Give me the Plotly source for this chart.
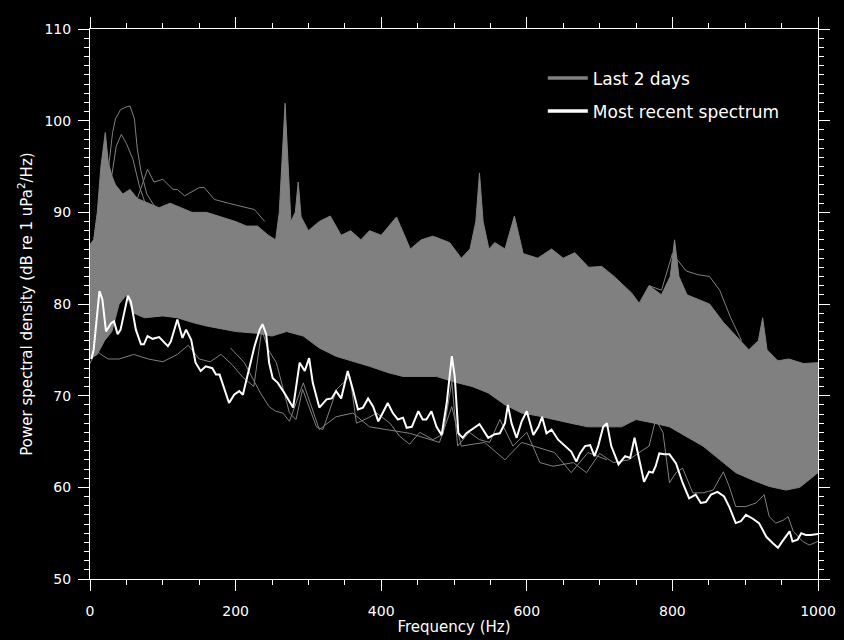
import plotly.graph_objects as go

GRAY = "rgb(128,128,128)"
FONT = "DejaVu Sans"

# ---- dense band of the last-2-days spectra (upper / lower envelope) ----
band_top_f = [0, 5, 10, 15, 21, 25, 30, 35, 45, 55, 65, 80, 95, 110, 125, 140, 160, 180,
              200, 215, 230, 245, 255, 260, 265, 268, 271, 276, 282, 286, 290, 300, 315,
              330, 345, 358, 372, 384, 400, 421, 440, 455, 471, 494, 510, 522, 530, 535,
              540, 548, 556, 570, 583, 595, 615, 634, 650, 666, 685, 703, 720, 744, 755,
              768, 785, 797, 803, 809, 820, 835, 851, 870, 887, 905, 918, 924, 930, 945,
              960, 980, 1000]
band_top_db = [86.5, 87, 90, 95, 98.7, 95.5, 94, 93, 92, 92.5, 91.5, 91, 90.5, 91, 90.5, 90,
               90, 89.5, 89, 88.5, 88.5, 87.5, 87, 90, 97, 101.9, 97, 89, 90, 93.3, 89.5,
               88, 89, 89.6, 87.5, 88, 87, 88, 87.5, 89.5, 86, 87, 87.4, 86.7, 85, 86, 89,
               94.3, 89, 86, 86.7, 86, 89.6, 85.5, 85, 86, 85, 85.6, 84, 84.1, 83, 81.2,
               80, 82, 81, 83, 87, 83, 81, 80.5, 80, 78, 76.5, 75, 76, 78.5, 75, 73.8, 74,
               73.5, 73.6]
band_bot_f = [0, 10, 20, 30, 40, 50, 60, 75, 100, 120, 140, 160, 180, 200, 230, 250, 270,
              293, 315, 338, 360, 384, 410, 430, 476, 500, 525, 547, 570, 593, 615, 638,
              660, 684, 710, 730, 750, 775, 796, 820, 842, 865, 887, 910, 933, 956, 975, 1000]
band_bot_db = [74, 74.5, 76, 77, 80, 81, 79, 78.5, 78.7, 78.5, 78, 77.6, 77.3, 77, 76.8,
               76.5, 77, 76.5, 75.2, 74.3, 73.8, 73.2, 72.5, 72.1, 72.1, 71.5, 71, 70.3,
               69, 68.1, 67.8, 67.4, 67, 66.6, 66.6, 66.6, 67.4, 67, 66.6, 65.5, 64.5, 63,
               61.6, 60.8, 60.1, 59.7, 60, 61.6]

# ---- individual last-2-days spectra that stand out of the band ----
high1_f = [0, 10, 20, 31, 35, 42, 50, 55, 61, 65, 70, 78, 90, 100]
high1_db = [85, 87, 91, 98.7, 100.2, 101.2, 101.5, 101.6, 100.2, 96.9, 94.5, 92, 90.5, 90]
high2_f = [20, 28, 36, 43, 50, 59, 68, 78]
high2_db = [90, 93, 97.2, 98.5, 97.5, 95.8, 92.8, 90.5]
high3_f = [65, 79, 88, 100, 114, 120, 130, 150, 157, 171, 190, 210, 226, 240]
high3_db = [91.5, 94.7, 93.3, 93.6, 92.5, 92.5, 91.8, 92.7, 92.7, 91.4, 91, 90.6, 90.3, 89]
high4_f = [750, 768, 785, 800, 819, 835, 851, 865, 880, 895]
high4_db = [79.5, 82, 81.5, 85.5, 83.6, 83.2, 83, 81.5, 78.5, 76]

low1_f = [0, 8, 15, 25, 40, 60, 80, 100, 120, 135, 150, 165, 180, 195, 210, 225, 236, 245,
          256, 274, 283, 292, 311, 320, 339, 357, 366, 380, 394, 412, 425, 439, 453, 471,
          485, 497, 505, 521, 535, 549, 563, 581, 600, 618, 636, 664, 682, 700, 719, 740,
          760, 768, 777, 787, 796, 805, 814, 828, 842, 856, 870, 878, 887, 901, 915, 926,
          933, 942, 952, 959, 966, 979, 988, 1000]
low1_db = [73.5, 75, 74.5, 74, 74, 74.5, 74, 73.7, 74.5, 75.5, 74, 73.7, 74.5, 73.4, 72,
           71, 77.2, 75, 73.6, 68.1, 67.4, 70.7, 66.6, 66.3, 70.7, 72.1, 67, 67.5, 68.1,
           67, 65.6, 64.7, 66, 65.2, 65.8, 71.5, 64.5, 66, 65.2, 64.9, 67.4, 64.5, 66,
           62.7, 62.3, 62.7, 61.6, 63.7, 62.7, 63, 64.1, 64.5, 67.4, 66, 60.5, 61.6, 62.1,
           59.4, 59.4, 59.7, 61.7, 60.1, 57.9, 57.9, 58.3, 59.2, 56.8, 56.1, 56.4, 56.8,
           55.2, 54.1, 53.7, 54.1]
low2_f = [193, 212, 234, 246, 255, 265, 274, 293, 315, 338, 361, 384, 407, 439, 480, 497,
          510, 542, 570, 593, 638, 661, 684, 710]
low2_db = [75.2, 73.6, 70.3, 68.8, 68.3, 68.1, 67.2, 71.4, 66.3, 67.7, 68.1, 66.6, 66.3,
           65.9, 64.9, 68.8, 64.5, 64.9, 63, 64.9, 63.8, 61.6, 63.8, 63]

# ---- most recent spectrum ----
recent_f = [2, 5, 13, 17, 22, 29, 33, 38, 42, 52, 56, 63, 70, 74, 79, 86, 95, 102, 107, 111,
            120, 127, 132, 139, 145, 152, 159, 168, 173, 178, 182, 191, 198, 205, 210, 217,
            226, 233, 237, 242, 246, 251, 258, 267, 279, 288, 295, 301, 306, 315, 325, 332,
            338, 345, 354, 361, 368, 375, 382, 389, 396, 402, 409, 416, 423, 430, 435, 442,
            451, 457, 462, 469, 476, 483, 490, 497, 501, 506, 512, 517, 524, 535, 547, 556,
            563, 570, 574, 579, 586, 593, 600, 609, 616, 621, 627, 634, 643, 652, 661, 668,
            673, 680, 687, 693, 698, 705, 710, 716, 726, 735, 742, 748, 755, 761, 768, 773,
            777, 782, 789, 796, 805, 814, 823, 832, 839, 846, 853, 862, 871, 878, 887, 894,
            901, 910, 919, 929, 938, 945, 951, 961, 965, 972, 977, 983, 990, 997, 1000]
recent_db = [74.0, 75.0, 81.4, 80.5, 77.0, 77.9, 78.1, 76.7, 77.2, 80.9, 80.3, 77.2, 75.6,
             75.6, 76.5, 76.2, 76.4, 75.8, 75.4, 75.9, 78.3, 76.3, 77.2, 76.1, 73.6, 72.7,
             73.2, 73.0, 72.3, 72.3, 71.4, 69.2, 70.1, 70.5, 70.1, 72.5, 75.4, 77.2, 77.8,
             76.7, 73.6, 71.9, 71.4, 70.3, 68.7, 73.6, 72.7, 74.1, 71.4, 68.7, 69.6, 69.7,
             70.5, 69.7, 72.7, 70.7, 68.5, 68.7, 69.7, 68.8, 67.2, 68.1, 69.2, 68.1, 67.4,
             67.6, 66.5, 66.6, 68.3, 67.4, 67.4, 68.3, 66.6, 65.7, 69.2, 74.3, 72.1, 65.9,
             65.4, 65.9, 66.3, 66.9, 65.4, 65.8, 65.9, 67.0, 69.0, 67.0, 65.4, 67.2, 68.3,
             65.7, 66.6, 67.7, 65.9, 66.3, 65.2, 64.6, 63.9, 62.8, 63.7, 64.5, 64.6, 63.4,
             64.5, 66.6, 67.0, 64.5, 62.5, 63.4, 63.2, 65.4, 62.8, 60.6, 61.7, 61.6, 62.3,
             63.7, 63.6, 63.6, 62.6, 60.5, 58.8, 59.2, 58.3, 58.4, 59.2, 59.5, 59.0, 57.9,
             56.1, 56.3, 57.0, 56.6, 56.1, 54.6, 53.9, 53.4, 54.1, 55.2, 54.1, 54.3, 55.0,
             54.8, 54.8, 54.9, 54.9]

x_range = [0, 1000]
y_range = [50, 110]

fig = go.Figure()
fig.add_trace(go.Scatter(
    x=band_top_f + band_bot_f[::-1], y=band_top_db + band_bot_db[::-1],
    mode="lines", fill="toself", fillcolor=GRAY, line=dict(color=GRAY, width=1),
    showlegend=False, hoverinfo="skip"))
for fx, fy in [(high1_f, high1_db), (high2_f, high2_db), (high3_f, high3_db),
               (high4_f, high4_db), (low1_f, low1_db), (low2_f, low2_db)]:
    fig.add_trace(go.Scatter(x=fx, y=fy, mode="lines", line=dict(color=GRAY, width=1),
                             showlegend=False, hoverinfo="skip"))
fig.add_trace(go.Scatter(x=recent_f, y=recent_db, mode="lines",
                         line=dict(color="white", width=2), showlegend=False))
# legend entries
fig.add_trace(go.Scatter(x=[None], y=[None], mode="lines", name="Last 2 days",
                         line=dict(color=GRAY, width=3.5), legendgroup="a", legendrank=1))
fig.add_trace(go.Scatter(x=[None], y=[None], mode="lines", name="Most recent spectrum",
                         line=dict(color="white", width=3.5), legendgroup="b", legendrank=2))

axis_common = dict(showline=True, linecolor="white", linewidth=1, mirror="ticks",
                   ticks="outside", tickcolor="white", tickwidth=1, ticklen=11,
                   showgrid=False, zeroline=False,
                   tickfont=dict(color="white", size=14, family=FONT))
fig.update_xaxes(range=x_range, tick0=0, dtick=200, ticklabelstandoff=8,
                 minor=dict(ticks="outside", ticklen=5, dtick=50, tickcolor="white",
                            tickwidth=1, showgrid=False),
                 title=dict(text="Frequency (Hz)", font=dict(color="white", size=15, family=FONT),
                            standoff=3),
                 **axis_common)
fig.update_yaxes(range=y_range, tick0=50, dtick=10, ticklabelstandoff=4,
                 minor=dict(ticks="outside", ticklen=5, dtick=1, tickcolor="white",
                            tickwidth=1, showgrid=False),
                 title=dict(text="Power spectral density (dB re 1 uPa<sup>2</sup>/Hz)",
                            font=dict(color="white", size=15, family=FONT), standoff=8),
                 **axis_common)
fig.update_layout(
    width=844, height=640,
    margin=dict(l=90, r=26, t=29, b=61, autoexpand=False),
    paper_bgcolor="black", plot_bgcolor="black",
    font=dict(family=FONT, color="white"),
    legend=dict(x=0.622, y=0.943, xanchor="left", yanchor="top", bgcolor="rgba(0,0,0,0)",
                font=dict(size=17, color="white", family=FONT), itemwidth=40,
                traceorder="grouped", tracegroupgap=8),
)
fig.write_html("out.html", config={"displayModeBar": False},
               post_script="document.body.style.margin='0';"
                           "document.body.style.background='black';"
                           "document.body.style.overflow='hidden';")
